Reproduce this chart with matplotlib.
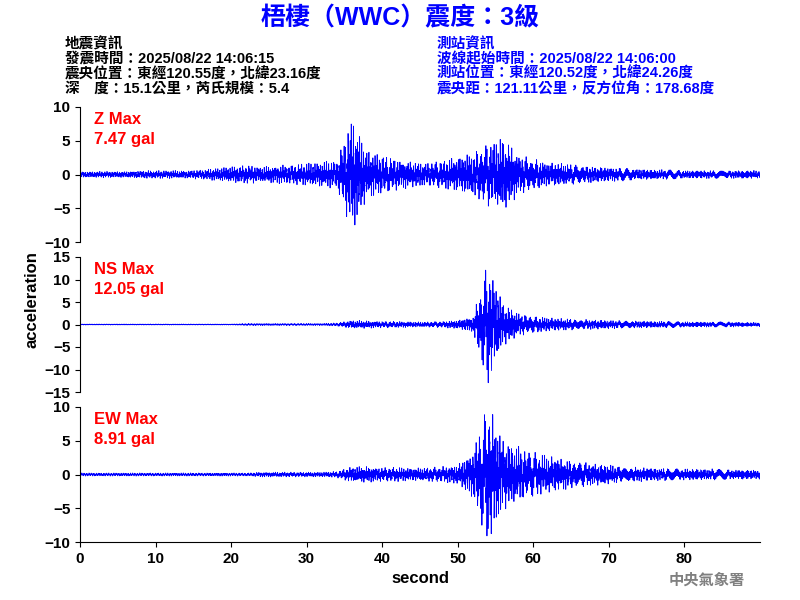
import numpy as np
import matplotlib
matplotlib.use("Agg")
import matplotlib.pyplot as plt

plt.rcParams['font.family'] = ['Liberation Sans', 'Noto Sans CJK TC', 'DejaVu Sans']

# envelope of each trace (gal), one value every 2 seconds, 0..90 s
env_z = [0.4, 0.4, 0.4, 0.4, 0.5, 0.5, 0.5, 0.5, 0.6, 0.8, 1.0, 1.2, 1.0, 1.1, 1.3, 1.4, 1.6, 1.8,
         7.5, 3.0, 2.5, 2.0, 1.6, 1.5, 1.8, 2.2, 2.8, 4.0, 4.8, 2.6, 2.0, 1.5, 1.4, 1.2, 1.0, 0.9,
         0.8, 0.7, 0.6, 0.6, 0.5, 0.5, 0.5, 0.5, 0.5, 0.5]
env_ns = [0.1, 0.1, 0.1, 0.1, 0.1, 0.1, 0.1, 0.1, 0.1, 0.1, 0.1, 0.2, 0.2, 0.2, 0.2, 0.2, 0.2, 0.3,
          0.8, 0.7, 0.6, 0.6, 0.5, 0.5, 0.6, 0.8, 1.5, 12.0, 4.0, 2.2, 1.6, 1.3, 1.1, 1.0, 0.9, 0.8,
          0.7, 0.7, 0.6, 0.6, 0.5, 0.5, 0.5, 0.5, 0.4, 0.4]
env_ew = [0.2, 0.2, 0.2, 0.2, 0.2, 0.2, 0.2, 0.2, 0.2, 0.2, 0.2, 0.2, 0.3, 0.3, 0.3, 0.3, 0.3, 0.4,
          1.0, 1.0, 0.9, 0.9, 0.8, 0.9, 1.0, 1.2, 3.0, 9.0, 4.5, 3.5, 2.8, 2.3, 1.9, 1.7, 1.4, 1.2,
          1.0, 0.9, 0.8, 0.8, 0.7, 0.7, 0.7, 0.6, 0.6, 0.6]
labels = ["Z Max\n7.47 gal", "NS Max\n12.05 gal", "EW Max\n8.91 gal"]
ylims = [10, 15, 10]

t = np.arange(0, 90, 0.01)
env_t = np.arange(0, 92, 2)

def trace(env, k):
    e = np.interp(t, env_t, env)
    osc = (np.sin(2 * np.pi * 7.3 * t + k) * 0.5 + np.sin(2 * np.pi * 13.7 * t + 2 * k) * 0.3
           + np.sin(2 * np.pi * 3.1 * t * (1 + 0.01 * np.sin(t)) + k) * 0.4)
    return e * osc

fig = plt.figure(figsize=(8, 6), dpi=100)
tops = [107, 257, 407]
for i, (env, lab, yl) in enumerate(zip([env_z, env_ns, env_ew], labels, ylims)):
    ax = fig.add_axes([80 / 800, 1 - (tops[i] + 135) / 600, 680 / 800, 135 / 600])
    ax.plot(t, trace(env, i + 1), color='blue', lw=0.6)
    ax.set_xlim(0, 90)
    ax.set_ylim(-yl, yl)
    ax.set_yticks(np.arange(-yl, yl + 1, 5))
    ax.spines['top'].set_visible(False)
    ax.spines['right'].set_visible(False)
    ax.tick_params(labelsize=11)
    for lbl in ax.get_yticklabels():
        lbl.set_fontweight('bold')
    ax.text(0.02, 0.96, lab, transform=ax.transAxes, color='red', fontsize=12,
            fontweight='bold', va='top', linespacing=1.4)
    if i < 2:
        ax.spines['bottom'].set_visible(False)
        ax.set_xticks([])
    else:
        ax.set_xticks(range(0, 90, 10))
        for lbl in ax.get_xticklabels():
            lbl.set_fontweight('bold')
        ax.set_xlabel("second", fontsize=12, fontweight='bold')

fig.text(32 / 800, 0.5, "acceleration", rotation=90, va='center', ha='center',
         fontsize=12, fontweight='bold')
fig.text(0.5, 0.97, "梧棲（WWC）震度：3級", color='blue', fontsize=18, fontweight='bold',
         ha='center', va='center')
left = ["地震資訊", "發震時間：2025/08/22 14:06:15", "震央位置：東經120.55度，北緯23.16度",
        "深　度：15.1公里，芮氏規模：5.4"]
right = ["測站資訊", "波線起始時間：2025/08/22 14:06:00", "測站位置：東經120.52度，北緯24.26度",
         "震央距：121.11公里，反方位角：178.68度"]
for j, (l, r) in enumerate(zip(left, right)):
    y = 1 - (44 + 15 * j) / 600
    fig.text(65 / 800, y, l, fontsize=10.5, fontweight='bold', va='center')
    fig.text(437 / 800, y, r, fontsize=10.5, fontweight='bold', va='center', color='blue')
fig.text(745 / 800, 1 - 581 / 600, "中央氣象署", color='gray', fontsize=11, fontweight='bold',
         ha='right', va='center')
fig.savefig("out.png")
